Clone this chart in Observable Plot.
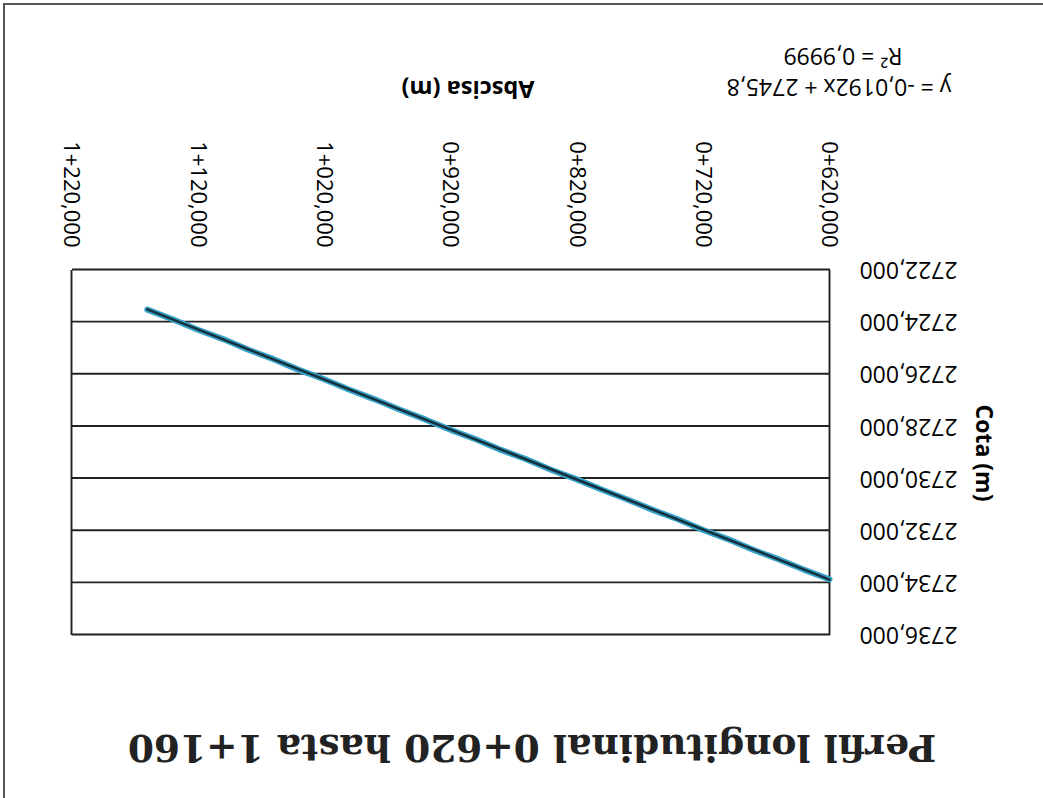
<!DOCTYPE html>
<html>
<head>
<meta charset="utf-8">
<script src="https://cdn.jsdelivr.net/npm/d3@7"></script>
<script src="https://cdn.jsdelivr.net/npm/@observablehq/plot@0.6"></script>
<style>
  html, body { margin: 0; padding: 0; background: #fff; }
  #page {
    position: absolute; left: 0; top: 0; width: 1043px; height: 798px;
    background: #fff; overflow: hidden;
    transform: rotate(180deg); transform-origin: 50% 50%;
  }
  #edge {
    position: absolute; left: 0; top: 0; width: 1038px; height: 793px;
    border-right: 2px solid #555; border-bottom: 2px solid #555;
  }
  .lbl { position: absolute; transform: translate(-50%, -50%); white-space: nowrap; color: #000; }
  #title { font-family: "DejaVu Serif", serif; font-weight: bold; font-size: 37.5px; left: 511px; top: 50px; color: #222; }
  #xtitle { font-family: "Open Sans", sans-serif; font-weight: bold; font-size: 23.5px; left: 575px; top: 708px; }
  #ytitle { font-family: "Open Sans", sans-serif; font-weight: bold; font-size: 23px; left: 58px; top: 345px; transform: translate(-50%, -50%) rotate(-90deg); }
  .eq { font-family: "Open Sans", sans-serif; font-size: 23px; }
  #eq1 { left: 204px; top: 710px; }
  #eq2 { left: 200px; top: 741px; }
  #chart { position: absolute; left: 0; top: 100px; }
</style>
</head>
<body>
<div id="page">
  <div id="edge"></div>
  <div id="title" class="lbl">Perfil longitudinal 0+620 hasta 1+160</div>
  <div id="chart"></div>
  <div id="ytitle" class="lbl">Cota (m)</div>
  <div id="xtitle" class="lbl">Abscisa (m)</div>
  <div id="eq1" class="lbl eq">y = -0,0192x + 2745,8</div>
  <div id="eq2" class="lbl eq">R² = 0,9999</div>
</div>
<script>
// Longitudinal profile: abscissa (m) and ground elevation (m)
const abscisas = [620, 640, 660, 680, 700, 720, 740, 760, 780, 800, 820, 840, 860, 880,
                  900, 920, 940, 960, 980, 1000, 1020, 1040, 1060, 1080, 1100, 1120, 1140, 1160];
const cotas = [2733.88, 2733.52, 2733.12, 2732.76, 2732.35, 2731.99, 2731.58, 2731.22, 2730.82, 2730.45,
               2730.05, 2729.69, 2729.28, 2728.92, 2728.51, 2728.15, 2727.75, 2727.38, 2726.98, 2726.61,
               2726.21, 2725.85, 2725.44, 2725.08, 2724.67, 2724.31, 2723.91, 2723.54];

// Linear trendline as reported on the chart
const trendSlope = -0.0192;
const trendIntercept = 2745.8;
const trendRange = [620, 1160];

// Axis ticks and their labels
const xTicks = [620, 720, 820, 920, 1020, 1120, 1220];
const xTickLabels = ["0+620,000", "0+720,000", "0+820,000", "0+920,000", "1+020,000", "1+120,000", "1+220,000"];
const yTicks = [2722, 2724, 2726, 2728, 2730, 2732, 2734, 2736];
const yTickLabels = ["2722,000", "2724,000", "2726,000", "2728,000", "2730,000", "2732,000", "2734,000", "2736,000"];

const profile = abscisas.map((a, i) => ({abscisa: a, cota: cotas[i]}));
const trend = trendRange.map(a => ({abscisa: a, cota: trendSlope * a + trendIntercept}));

const chart = Plot.plot({
  width: 1043,
  height: 698,
  marginTop: 63,
  marginBottom: 270,
  marginLeft: 213,
  marginRight: 72,
  style: {fontFamily: "Open Sans, sans-serif", fontSize: "22px", color: "#000", background: "transparent"},
  x: {
    domain: [620, 1220],
    ticks: xTicks,
    tickFormat: d => xTickLabels[xTicks.indexOf(d)],
    tickRotate: -90,
    tickSize: 0,
    tickPadding: 22,
    label: null
  },
  y: {
    domain: [2722, 2736],
    ticks: yTicks,
    tickFormat: d => yTickLabels[yTicks.indexOf(d)],
    tickSize: 0,
    tickPadding: 30,
    label: null
  },
  marks: [
    Plot.ruleY(yTicks, {stroke: "#222", strokeWidth: 1.9}),
    Plot.ruleX([620, 1220], {stroke: "#222", strokeWidth: 1.9}),
    Plot.line(profile, {x: "abscisa", y: "cota", stroke: "#35a2c8", strokeWidth: 6}),
    Plot.line(trend, {x: "abscisa", y: "cota", stroke: "#16303d", strokeWidth: 2.6})
  ]
});
chart.querySelectorAll("g[aria-label='y-axis tick label'] text").forEach(t => t.style.fontSize = "23px");
document.getElementById("chart").appendChild(chart);
</script>
</body>
</html>
